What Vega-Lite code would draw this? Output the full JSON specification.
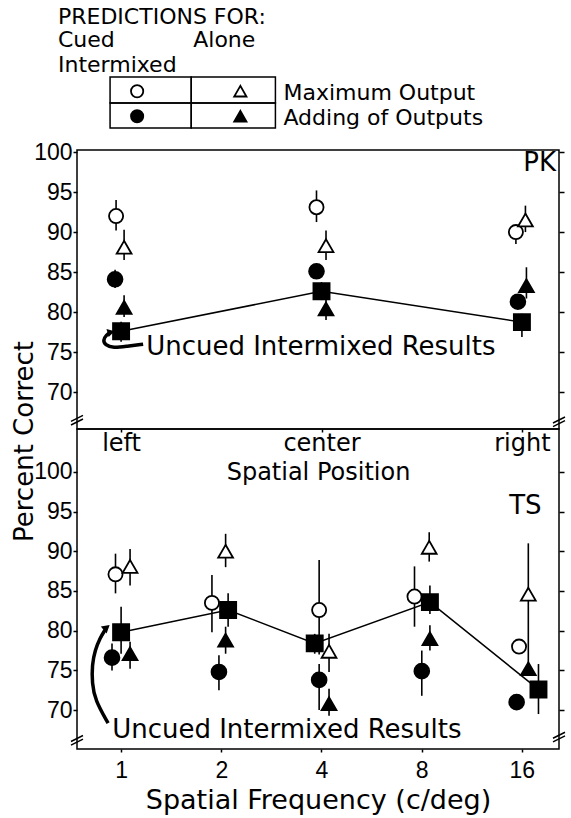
{
  "$schema": "https://vega.github.io/schema/vega-lite/v6.json",
  "padding": {"left": 10, "top": 5, "right": 5, "bottom": 5},
  "background": "white",
  "bounds": "flush",
  "spacing": 0,
  "config": {
    "font": "DejaVu Sans",
    "view": {"stroke": null},
    "axis": {"grid": false, "domainColor": "black", "tickColor": "black", "labelColor": "black", "titleColor": "black", "titleFontWeight": "normal", "tickWidth": 1.5}
  },
  "datasets": {
    "pk": [
      {"position": "left", "series": "Cued Intermixed: Maximum Output", "pos": -0.05, "pct": 92.0, "lo": 90.2, "hi": 94.0},
      {"position": "left", "series": "Alone: Maximum Output", "pos": 0.03, "pct": 88.1, "lo": 86.5, "hi": 90.3},
      {"position": "left", "series": "Cued Intermixed: Adding of Outputs", "pos": -0.06, "pct": 84.1, "lo": 83.0, "hi": 85.3},
      {"position": "left", "series": "Alone: Adding of Outputs", "pos": 0.03, "pct": 80.6, "lo": 79.4, "hi": 82.1},
      {"position": "left", "series": "Uncued Intermixed Results", "pos": 0.0, "pct": 77.6, "lo": 76.3, "hi": 78.8},
      {"position": "center", "series": "Cued Intermixed: Maximum Output", "pos": 1.95, "pct": 93.1, "lo": 91.25, "hi": 95.2},
      {"position": "center", "series": "Alone: Maximum Output", "pos": 2.045, "pct": 88.3, "lo": 86.5, "hi": 90.2},
      {"position": "center", "series": "Cued Intermixed: Adding of Outputs", "pos": 1.95, "pct": 85.1, "lo": 84.2, "hi": 86.0},
      {"position": "center", "series": "Alone: Adding of Outputs", "pos": 2.045, "pct": 80.4, "lo": 79.0, "hi": 81.5},
      {"position": "center", "series": "Uncued Intermixed Results", "pos": 2.0, "pct": 82.6, "lo": 81.5, "hi": 83.75},
      {"position": "right", "series": "Cued Intermixed: Maximum Output", "pos": 3.94, "pct": 90.0, "lo": 88.5, "hi": 90.8},
      {"position": "right", "series": "Alone: Maximum Output", "pos": 4.035, "pct": 91.5, "lo": 90.0, "hi": 93.3},
      {"position": "right", "series": "Cued Intermixed: Adding of Outputs", "pos": 3.96, "pct": 81.3, "lo": 80.6, "hi": 82.1},
      {"position": "right", "series": "Alone: Adding of Outputs", "pos": 4.045, "pct": 83.3, "lo": 81.7, "hi": 85.6},
      {"position": "right", "series": "Uncued Intermixed Results", "pos": 4.0, "pct": 78.75, "lo": 76.9, "hi": 79.8}
    ],
    "ts": [
      {"sf": 1, "series": "Cued Intermixed: Maximum Output", "freq": 0.962, "pct": 87.1, "lo": 84.7, "hi": 89.7},
      {"sf": 1, "series": "Alone: Maximum Output", "freq": 1.064, "pct": 88.1, "lo": 85.7, "hi": 90.3},
      {"sf": 1, "series": "Cued Intermixed: Adding of Outputs", "freq": 0.939, "pct": 76.6, "lo": 75.0, "hi": 78.4},
      {"sf": 1, "series": "Alone: Adding of Outputs", "freq": 1.064, "pct": 77.1, "lo": 75.2, "hi": 78.6},
      {"sf": 1, "series": "Uncued Intermixed Results", "freq": 1.0, "pct": 79.8, "lo": 77.1, "hi": 83.0},
      {"sf": 2, "series": "Cued Intermixed: Maximum Output", "freq": 1.875, "pct": 83.5, "lo": 79.8, "hi": 87.0},
      {"sf": 2, "series": "Alone: Maximum Output", "freq": 2.061, "pct": 90.0, "lo": 88.0, "hi": 92.2},
      {"sf": 2, "series": "Cued Intermixed: Adding of Outputs", "freq": 1.968, "pct": 74.8, "lo": 72.5, "hi": 76.9},
      {"sf": 2, "series": "Alone: Adding of Outputs", "freq": 2.061, "pct": 78.8, "lo": 77.1, "hi": 80.5},
      {"sf": 2, "series": "Uncued Intermixed Results", "freq": 2.097, "pct": 82.6, "lo": 80.5, "hi": 84.7},
      {"sf": 4, "series": "Cued Intermixed: Maximum Output", "freq": 3.937, "pct": 82.6, "lo": 77.0, "hi": 88.9},
      {"sf": 4, "series": "Alone: Maximum Output", "freq": 4.216, "pct": 77.4, "lo": 74.8, "hi": 79.6},
      {"sf": 4, "series": "Cued Intermixed: Adding of Outputs", "freq": 3.937, "pct": 73.8, "lo": 70.0, "hi": 75.8},
      {"sf": 4, "series": "Alone: Adding of Outputs", "freq": 4.216, "pct": 70.8, "lo": 69.3, "hi": 72.7},
      {"sf": 4, "series": "Uncued Intermixed Results", "freq": 3.818, "pct": 78.4, "lo": 77.1, "hi": 79.6},
      {"sf": 8, "series": "Cued Intermixed: Maximum Output", "freq": 7.616, "pct": 84.3, "lo": 80.5, "hi": 88.1},
      {"sf": 8, "series": "Alone: Maximum Output", "freq": 8.432, "pct": 90.5, "lo": 88.7, "hi": 92.4},
      {"sf": 8, "series": "Cued Intermixed: Adding of Outputs", "freq": 8.01, "pct": 74.9, "lo": 71.8, "hi": 77.5},
      {"sf": 8, "series": "Alone: Adding of Outputs", "freq": 8.473, "pct": 79.0, "lo": 77.5, "hi": 80.7},
      {"sf": 8, "series": "Uncued Intermixed Results", "freq": 8.473, "pct": 83.6, "lo": 82.1, "hi": 85.7},
      {"sf": 16, "series": "Cued Intermixed: Maximum Output", "freq": 15.7, "pct": 78.0, "lo": null, "hi": null},
      {"sf": 16, "series": "Alone: Maximum Output", "freq": 16.74, "pct": 84.6, "lo": 75.4, "hi": 91.0},
      {"sf": 16, "series": "Cued Intermixed: Adding of Outputs", "freq": 15.44, "pct": 71.0, "lo": null, "hi": null},
      {"sf": 16, "series": "Alone: Adding of Outputs", "freq": 16.74, "pct": 75.2, "lo": null, "hi": null},
      {"sf": 16, "series": "Uncued Intermixed Results", "freq": 17.96, "pct": 72.6, "lo": 69.5, "hi": 75.8}
    ],
    "legendCells": [
      {"pos": -0.11, "pos2": 0.70, "line": 2.37, "line2": 3.43},
      {"pos": 0.70, "pos2": 1.54, "line": 2.37, "line2": 3.43},
      {"pos": -0.11, "pos2": 0.70, "line": 3.43, "line2": 4.45},
      {"pos": 0.70, "pos2": 1.54, "line": 3.43, "line2": 4.45}
    ],
    "legendSymbols": [
      {"series": "Cued Intermixed: Maximum Output", "pos": 0.16, "line": 2.95},
      {"series": "Alone: Maximum Output", "pos": 1.19, "line": 2.95},
      {"series": "Cued Intermixed: Adding of Outputs", "pos": 0.16, "line": 3.97},
      {"series": "Alone: Adding of Outputs", "pos": 1.19, "line": 3.97}
    ],
    "legendText": [
      {"label": "PREDICTIONS FOR:", "pos": -0.63, "line": -0.1},
      {"label": "Cued", "pos": -0.63, "line": 0.84},
      {"label": "Alone", "pos": 0.72, "line": 0.84},
      {"label": "Intermixed", "pos": -0.63, "line": 1.86},
      {"label": "Maximum Output", "pos": 1.62, "line": 3.02},
      {"label": "Adding of Outputs", "pos": 1.62, "line": 4.04}
    ]
  },
  "vconcat": [
    {
      "width": 482,
      "height": 145,
      "encoding": {
        "x": {"field": "pos", "type": "quantitative", "scale": {"domain": [-0.44, 4.37], "nice": false, "zero": false}, "axis": null},
        "y": {"field": "line", "type": "quantitative", "scale": {"domain": [-0.57, 5.35], "reverse": true, "nice": false, "zero": false}, "axis": null}
      },
      "layer": [
        {
          "data": {"name": "legendCells"},
          "mark": {"type": "rect", "filled": false, "stroke": "black", "strokeWidth": 1.5},
          "encoding": {"x2": {"field": "pos2"}, "y2": {"field": "line2"}}
        },
        {
          "data": {"name": "legendSymbols"},
          "mark": {"type": "point", "filled": true, "stroke": "black", "strokeWidth": 1.8, "opacity": 1, "size": 150},
          "encoding": {
            "shape": {"field": "series", "type": "nominal", "scale": {"domain": ["Cued Intermixed: Maximum Output", "Alone: Maximum Output", "Cued Intermixed: Adding of Outputs", "Alone: Adding of Outputs", "Uncued Intermixed Results"], "range": ["circle", "triangle-up", "circle", "triangle-up", "square"]}, "legend": null},
            "fill": {"field": "series", "type": "nominal", "scale": {"domain": ["Cued Intermixed: Maximum Output", "Alone: Maximum Output", "Cued Intermixed: Adding of Outputs", "Alone: Adding of Outputs", "Uncued Intermixed Results"], "range": ["white", "white", "black", "black", "black"]}, "legend": null}
          }
        },
        {
          "data": {"name": "legendText"},
          "mark": {"type": "text", "align": "left", "baseline": "middle", "fontSize": 22, "color": "black"},
          "encoding": {"text": {"field": "label"}}
        }
      ]
    },
    {
      "width": 482,
      "height": 279,
      "view": {"stroke": "black", "strokeWidth": 1.5},
      "data": {"name": "pk"},
      "encoding": {
        "x": {"field": "pos", "type": "quantitative", "scale": {"domain": [-0.44, 4.37], "nice": false, "zero": false},
          "axis": {"orient": "bottom", "values": [0, 2, 4], "labelExpr": "datum.value == 0 ? 'left' : datum.value == 2 ? 'center' : 'right'", "title": "Spatial Position", "titleFontSize": 24, "titleY": 43, "titleBaseline": "middle", "labelFontSize": 24, "labelBaseline": "middle", "labelPadding": 11, "tickSize": 3, "domain": false}},
        "y": {"field": "pct", "type": "quantitative", "scale": {"domain": [65.4, 100.25], "nice": false, "zero": false}, "axis": null}
      },
      "resolve": {"axis": {"y": "independent"}},
      "layer": [
        {
          "transform": [{"filter": "datum.series == 'Uncued Intermixed Results'"}],
          "mark": {"type": "line", "color": "black", "strokeWidth": 1.5}
        },
        {
          "mark": {"type": "rule", "color": "black", "strokeWidth": 1.6},
          "encoding": {
            "y": {"field": "lo", "type": "quantitative", "scale": {"domain": [65.4, 100.25], "nice": false, "zero": false},
              "axis": {"orient": "left", "values": [70, 75, 80, 85, 90, 95, 100], "title": "Percent Correct", "titleFontSize": 26, "titleX": -53, "titleY": 291, "titleAngle": 270, "titleAlign": "center", "titleBaseline": "middle", "labelFont": "Liberation Sans", "labelFontSize": 23, "tickSize": 4, "labelPadding": 1, "domain": false}},
            "y2": {"field": "hi"}
          }
        },
        {
          "mark": {"type": "point", "filled": true, "stroke": "black", "strokeWidth": 1.8, "opacity": 1},
          "encoding": {
            "y": {"field": "pct", "type": "quantitative", "scale": {"domain": [65.4, 100.25], "nice": false, "zero": false},
              "axis": {"orient": "right", "values": [70, 75, 80, 85, 90, 95, 100], "labels": false, "title": null, "tickSize": 5, "domain": false}},
            "shape": {"field": "series", "type": "nominal", "scale": {"domain": ["Cued Intermixed: Maximum Output", "Alone: Maximum Output", "Cued Intermixed: Adding of Outputs", "Alone: Adding of Outputs", "Uncued Intermixed Results"], "range": ["circle", "triangle-up", "circle", "triangle-up", "square"]}, "legend": null},
            "fill": {"field": "series", "type": "nominal", "scale": {"domain": ["Cued Intermixed: Maximum Output", "Alone: Maximum Output", "Cued Intermixed: Adding of Outputs", "Alone: Adding of Outputs", "Uncued Intermixed Results"], "range": ["white", "white", "black", "black", "black"]}, "legend": null},
            "size": {"field": "series", "type": "nominal", "scale": {"type": "ordinal", "domain": ["Cued Intermixed: Maximum Output", "Alone: Maximum Output", "Cued Intermixed: Adding of Outputs", "Alone: Adding of Outputs", "Uncued Intermixed Results"], "range": [200, 220, 220, 220, 260]}, "legend": null}
          }
        },
        {
          "data": {"values": [{"label": "Uncued   Intermixed   Results", "pos": 0.25, "pct": 75.6}]},
          "mark": {"type": "text", "align": "left", "baseline": "middle", "fontSize": 26, "color": "black"},
          "encoding": {"text": {"field": "label"}}
        },
        {
          "data": {"values": [
            {"order": 1, "pos": 0.22, "pct": 76.0},
            {"order": 2, "pos": 0.06, "pct": 75.75},
            {"order": 3, "pos": -0.08, "pct": 75.5},
            {"order": 4, "pos": -0.16, "pct": 75.9},
            {"order": 5, "pos": -0.18, "pct": 76.5},
            {"order": 6, "pos": -0.15, "pct": 77.1},
            {"order": 7, "pos": -0.11, "pct": 77.45}
          ]},
          "mark": {"type": "line", "color": "black", "strokeWidth": 3.5, "interpolate": "basis"},
          "encoding": {"order": {"field": "order", "type": "quantitative"}}
        },
        {
          "data": {"values": [{"pos": -0.1, "pct": 77.5}]},
          "mark": {"type": "point", "shape": "triangle-right", "filled": true, "color": "black", "opacity": 1, "size": 70, "angle": -15}
        },
        {
          "data": {"values": [{"label": "PK", "pos": 4.34, "pct": 98.6}]},
          "mark": {"type": "text", "align": "right", "baseline": "middle", "fontSize": 26, "color": "black"},
          "encoding": {"text": {"field": "label"}}
        },
        {
          "data": {"values": [{"pos": -0.44, "pct": 66.5}, {"pos": 4.37, "pct": 66.3}]},
          "mark": {"type": "point", "shape": "M-1,0.2L1,-0.8M-1,0.8L1,-0.2", "filled": false, "stroke": "black", "strokeWidth": 1.5, "opacity": 1, "size": 144}
        }
      ]
    },
    {
      "width": 482,
      "height": 320,
      "view": {"stroke": "black", "strokeWidth": 1.5},
      "data": {"name": "ts"},
      "encoding": {
        "x": {"field": "freq", "type": "quantitative", "scale": {"type": "log", "base": 2, "domain": [0.737, 20.7], "nice": false},
          "axis": {"orient": "bottom", "values": [1, 2, 4, 8, 16], "format": "d", "title": "Spatial Frequency  (c/deg)", "titleFontSize": 27, "titleY": 51, "titleBaseline": "middle", "labelFont": "Liberation Sans", "labelFontSize": 23, "labelBaseline": "middle", "labelPadding": 18, "tickSize": 3, "domain": false}},
        "y": {"field": "pct", "type": "quantitative", "scale": {"domain": [65.1, 105.4], "nice": false, "zero": false}, "axis": null}
      },
      "resolve": {"axis": {"y": "independent"}},
      "layer": [
        {
          "transform": [{"filter": "datum.series == 'Uncued Intermixed Results'"}],
          "mark": {"type": "line", "color": "black", "strokeWidth": 1.5}
        },
        {
          "transform": [{"filter": "isValid(datum.lo)"}],
          "mark": {"type": "rule", "color": "black", "strokeWidth": 1.6},
          "encoding": {
            "y": {"field": "lo", "type": "quantitative", "scale": {"domain": [65.1, 105.4], "nice": false, "zero": false},
              "axis": {"orient": "left", "values": [70, 75, 80, 85, 90, 95, 100], "title": null, "labelFont": "Liberation Sans", "labelFontSize": 23, "tickSize": 4, "labelPadding": 1, "domain": false}},
            "y2": {"field": "hi"}
          }
        },
        {
          "mark": {"type": "point", "filled": true, "stroke": "black", "strokeWidth": 1.8, "opacity": 1},
          "encoding": {
            "y": {"field": "pct", "type": "quantitative", "scale": {"domain": [65.1, 105.4], "nice": false, "zero": false},
              "axis": {"orient": "right", "values": [70, 75, 80, 85, 90, 95, 100], "labels": false, "title": null, "tickSize": 5, "domain": false}},
            "shape": {"field": "series", "type": "nominal", "scale": {"domain": ["Cued Intermixed: Maximum Output", "Alone: Maximum Output", "Cued Intermixed: Adding of Outputs", "Alone: Adding of Outputs", "Uncued Intermixed Results"], "range": ["circle", "triangle-up", "circle", "triangle-up", "square"]}, "legend": null},
            "fill": {"field": "series", "type": "nominal", "scale": {"domain": ["Cued Intermixed: Maximum Output", "Alone: Maximum Output", "Cued Intermixed: Adding of Outputs", "Alone: Adding of Outputs", "Uncued Intermixed Results"], "range": ["white", "white", "black", "black", "black"]}, "legend": null},
            "size": {"field": "series", "type": "nominal", "scale": {"type": "ordinal", "domain": ["Cued Intermixed: Maximum Output", "Alone: Maximum Output", "Cued Intermixed: Adding of Outputs", "Alone: Adding of Outputs", "Uncued Intermixed Results"], "range": [200, 220, 220, 220, 260]}, "legend": null}
          }
        },
        {
          "data": {"values": [{"label": "Uncued   Intermixed   Results", "freq": 0.94, "pct": 67.5}]},
          "mark": {"type": "text", "align": "left", "baseline": "middle", "fontSize": 26, "color": "black"},
          "encoding": {"text": {"field": "label"}}
        },
        {
          "data": {"values": [
            {"order": 1, "freq": 0.914, "pct": 68.35},
            {"order": 2, "freq": 0.835, "pct": 71.25},
            {"order": 3, "freq": 0.818, "pct": 73.4},
            {"order": 4, "freq": 0.818, "pct": 75.7},
            {"order": 5, "freq": 0.835, "pct": 77.55},
            {"order": 6, "freq": 0.865, "pct": 79.1},
            {"order": 7, "freq": 0.895, "pct": 80.1}
          ]},
          "mark": {"type": "line", "color": "black", "strokeWidth": 3.5, "interpolate": "basis"},
          "encoding": {"order": {"field": "order", "type": "quantitative"}}
        },
        {
          "data": {"values": [{"freq": 0.905, "pct": 80.4}]},
          "mark": {"type": "point", "shape": "triangle-up", "filled": true, "color": "black", "opacity": 1, "size": 80, "angle": 50}
        },
        {
          "data": {"values": [{"label": "TS", "freq": 16.4, "pct": 95.7}]},
          "mark": {"type": "text", "align": "center", "baseline": "middle", "fontSize": 26, "color": "black"},
          "encoding": {"text": {"field": "label"}}
        },
        {
          "data": {"values": [{"freq": 0.737, "pct": 66.2}, {"freq": 20.7, "pct": 66.6}]},
          "mark": {"type": "point", "shape": "M-1,0.2L1,-0.8M-1,0.8L1,-0.2", "filled": false, "stroke": "black", "strokeWidth": 1.5, "opacity": 1, "size": 144}
        }
      ]
    }
  ]
}
